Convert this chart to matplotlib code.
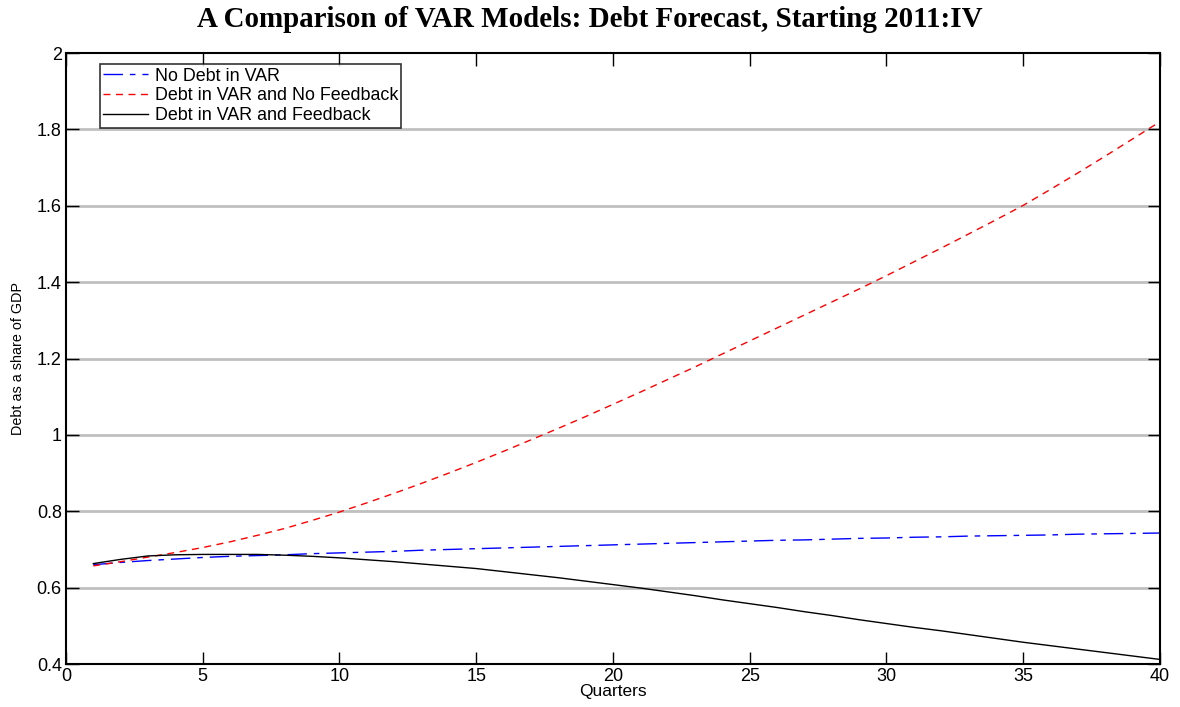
import matplotlib
matplotlib.use("Agg")
import matplotlib.pyplot as plt

quarters = list(range(1, 41))

no_debt = [0.660, 0.666, 0.671, 0.675, 0.679, 0.682, 0.684, 0.686, 0.689, 0.691,
           0.693, 0.695, 0.698, 0.700, 0.702, 0.704, 0.706, 0.708, 0.710, 0.712,
           0.714, 0.716, 0.718, 0.720, 0.722, 0.724, 0.725, 0.727, 0.729, 0.730,
           0.732, 0.733, 0.735, 0.736, 0.737, 0.738, 0.740, 0.741, 0.742, 0.743]

no_feedback = [0.657, 0.668, 0.680, 0.692, 0.705, 0.720, 0.737, 0.755, 0.776, 0.798,
               0.822, 0.847, 0.873, 0.900, 0.928, 0.957, 0.987, 1.017, 1.048, 1.080,
               1.112, 1.145, 1.178, 1.212, 1.246, 1.280, 1.314, 1.348, 1.382, 1.417,
               1.453, 1.489, 1.526, 1.563, 1.601, 1.643, 1.686, 1.730, 1.775, 1.820]

feedback = [0.663, 0.674, 0.683, 0.686, 0.687, 0.687, 0.687, 0.685, 0.682, 0.678,
            0.673, 0.668, 0.662, 0.656, 0.650, 0.642, 0.634, 0.626, 0.617, 0.608,
            0.599, 0.589, 0.579, 0.568, 0.558, 0.548, 0.537, 0.527, 0.516, 0.506,
            0.496, 0.487, 0.477, 0.467, 0.457, 0.448, 0.439, 0.430, 0.421, 0.412]

labels = ["No Debt in VAR", "Debt in VAR and No Feedback", "Debt in VAR and Feedback"]
yticks = [0.4, 0.6, 0.8, 1.0, 1.2, 1.4, 1.6, 1.8, 2.0]
ytick_labels = ["0.4", "0.6", "0.8", "1", "1.2", "1.4", "1.6", "1.8", "2"]
xticks = [0, 5, 10, 15, 20, 25, 30, 35, 40]

plt.rcParams["font.family"] = ["Liberation Sans", "DejaVu Sans"]

fig = plt.figure(figsize=(11.8, 7.07), dpi=100)
ax = fig.add_axes([0.0559, 0.0608, 0.9271, 0.8642])

for y in yticks[1:-1]:
    ax.axhline(y, color="#c0c0c0", linewidth=2.0, zorder=0)

ax.plot(quarters, no_debt, color="blue", linewidth=1.0,
        dashes=(14, 5, 4, 5), label=labels[0])
ax.plot(quarters, no_feedback, color="red", linewidth=1.0,
        dashes=(5, 4), label=labels[1])
ax.plot(quarters, feedback, color="black", linewidth=1.0, label=labels[2])

ax.set_xlim(0, 40)
ax.set_ylim(0.4, 2.0)
ax.set_xticks(xticks)
ax.set_yticks(yticks)
ax.set_yticklabels(ytick_labels)
ax.tick_params(direction="in", length=9, width=1, labelsize=13,
               top=True, right=True, pad=3)
for s in ax.spines.values():
    s.set_linewidth(1.5)

ax.set_xlabel("Quarters", fontsize=12.5, labelpad=-1)
ax.set_ylabel("Debt as a share of GDP", fontsize=10.4)
ax.yaxis.set_label_coords(-0.0375, 0.5)

fig.text(0.5, 0.972, "A Comparison of VAR Models: Debt Forecast, Starting 2011:IV",
         ha="center", va="center", fontsize=20.9, fontweight="bold",
         family=["Liberation Serif", "DejaVu Serif"])

leg = ax.legend(loc="upper left", bbox_to_anchor=(0.031, 0.982),
                fontsize=12.9, frameon=True, fancybox=False, handlelength=2.5,
                handletextpad=0.35, borderpad=0.2, labelspacing=0.15,
                borderaxespad=0)
leg.get_frame().set_edgecolor("black")
leg.get_frame().set_linewidth(1.2)

fig.savefig("out.png", dpi=100)
